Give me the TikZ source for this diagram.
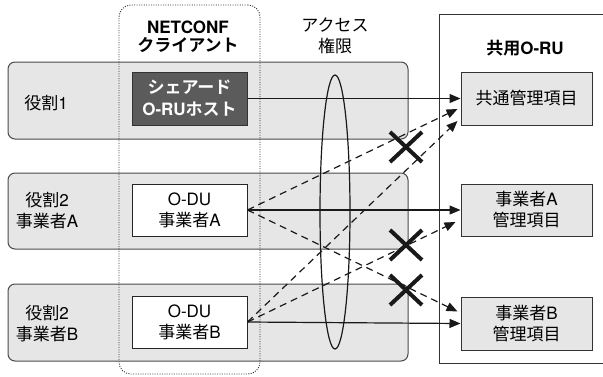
\documentclass[tikz,border=0pt]{standalone}
\usepackage{fontspec}
\setmainfont{TeX Gyre Heros}
\newfontfamily\jp{Noto Sans CJK JP}[BoldFont={Noto Sans CJK JP Bold}]
\usetikzlibrary{arrows.meta,calc}

\definecolor{bandfill}{HTML}{E6E6E6}
\definecolor{bandline}{HTML}{4A4A4A}
\definecolor{hostgray}{HTML}{5B5B5B}

\tikzset{
  band/.style={draw=bandline, fill=bandfill, rounded corners=7pt, line width=1pt, minimum width=400pt, inner sep=0pt},
  clientbox/.style={draw=black!85, fill=white, line width=1pt, minimum width=115pt, minimum height=52pt, align=center, inner sep=0pt},
  hostbox/.style={clientbox, fill=hostgray, draw=black!80, text=white, font=\fontsize{17}{22}\selectfont\bfseries},
  itembox/.style={draw=black!80, fill=bandfill, line width=1pt, minimum width=131pt, minimum height=53pt, align=center, inner sep=0pt},
  lbl/.style={align=center, inner sep=0pt},
  head/.style={lbl, font=\fontsize{17}{21}\selectfont\bfseries},
  flow/.style={-{Triangle[length=11pt,width=9pt]}, line width=1.2pt, black!90},
  denied/.style={flow, dash pattern=on 7pt off 5pt},
  crossmark/.style={line width=4pt, black!90},
}

\begin{document}
\begin{tikzpicture}[x=1pt, y=-1pt, font=\fontsize{17}{21}\selectfont]
\useasboundingbox (0,0) rectangle (603,376);
\clip (0,0) rectangle (603,376);

% role bands
\node[band, minimum height=77pt] (r1)  at (208,100.5) {};
\node[band, minimum height=76pt] (r2a) at (208,211) {};
\node[band, minimum height=77pt] (r2b) at (208,322.5) {};

% NETCONF client column
\node[draw=black!80, line width=0.9pt, dash pattern=on 1pt off 1.4pt, rounded corners=12pt,
      minimum width=141pt, minimum height=369pt, inner sep=0pt] (client) at (189.5,189.5) {};

% shared O-RU container
\draw[black!80, line width=0.9pt] (610,14) -- (439,14) -- (439,363) -- (610,363);

% management items
\node[itembox] (common) at (526.5,98.5) {{\jp 共通管理項目}};
\node[itembox, minimum height=52pt] (itemA) at (526.5,210) {{\jp 事業者}A\\{\jp 管理項目}};
\node[itembox] (itemB) at (526.5,323.5) {{\jp 事業者}B\\{\jp 管理項目}};

% clients
\node[hostbox, minimum height=53pt] (host) at (189.5,98.5) {{\jp シェアード}\\O-RU{\jp ホスト}};
\node[clientbox] (oduA) at (189.5,210) {O-DU\\{\jp 事業者}A};
\node[clientbox] (oduB) at (189.5,322) {O-DU\\{\jp 事業者}B};

% access-right ellipse
\draw[black!90, line width=1.2pt] (335,212) ellipse [x radius=15, y radius=137];

% permitted access
\draw[flow] (host.east) -- (common.west);
\draw[flow] (oduA.east) -- (itemA.west);
\draw[flow] (oduB.east) -- (itemB.west);

% denied access
\coordinate (cA) at ($(common.west)+(-3,10.5)$);
\coordinate (cB) at ($(common.west)+(-3,22.5)$);
\coordinate (iA) at ($(itemA.west)+(-5,12)$);
\coordinate (iB) at ($(itemB.west)+(-3,-12)$);
\draw[denied] (oduA.east) -- (cA);
\draw[denied] (oduB.east) -- (cB);
\draw[denied] (oduA.east) -- (iB);
\draw[denied] (oduB.east) -- (iA);

% blocking crosses
\foreach \cy in {147,245,290} {
  \draw[crossmark] (406-16,\cy-15) -- (406+16,\cy+15);
  \draw[crossmark] (406-16,\cy+15) -- (406+16,\cy-15);
}

% labels
\node[head] (hNet) at (188,27) {NETCONF};
\node[head] (hCli) at (188,45) {{\jp クライアント}};
\node[lbl] (hAcc) at (335,25) {{\jp アクセス}};
\node[lbl] (hRig) at (335,46) {{\jp 権限}};
\node[head] (hOru) at (525,48) {{\jp 共用}O-RU};

\node[lbl] (l1)  at (46,103) {{\jp 役割}1};
\node[lbl] (l2a) at (47,211) {{\jp 役割}2\\{\jp 事業者}A};
\node[lbl] (l2b) at (47,324) {{\jp 役割}2\\{\jp 事業者}B};
\end{tikzpicture}
\end{document}
